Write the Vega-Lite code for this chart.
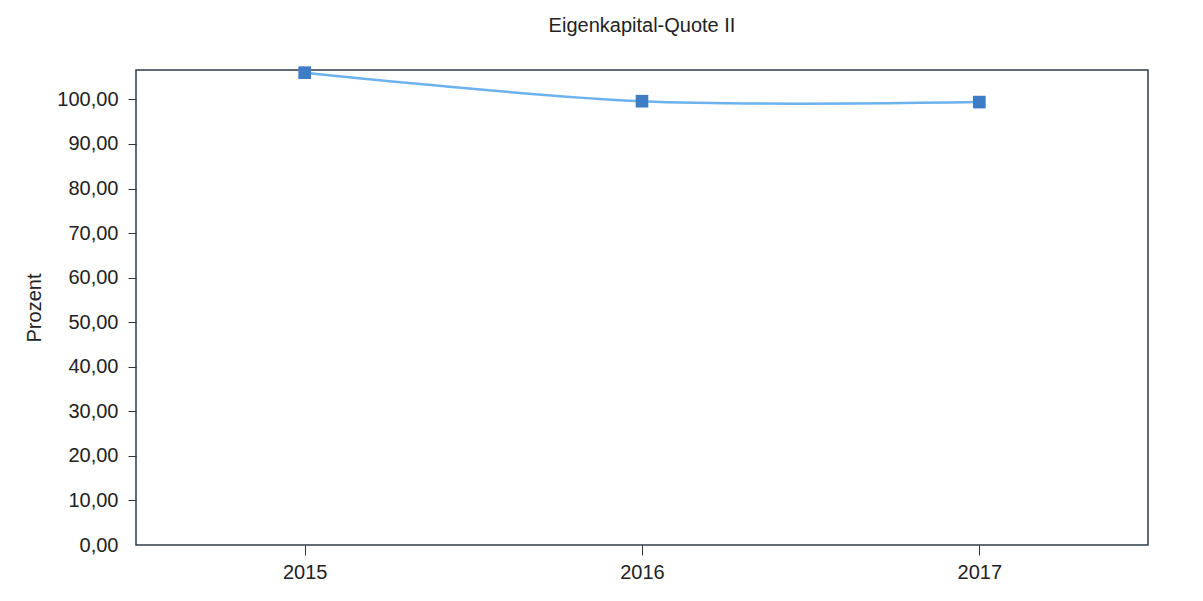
{
  "$schema": "https://vega.github.io/schema/vega-lite/v6.json",
  "autosize": "none",
  "width": 1012,
  "height": 475,
  "padding": {"left": 136, "top": 70, "right": 55, "bottom": 56},
  "background": "white",
  "title": {
    "text": "Eigenkapital-Quote II",
    "anchor": "middle",
    "font": "Liberation Sans",
    "fontSize": 20,
    "fontWeight": "normal",
    "color": "#222222",
    "offset": 30
  },
  "data": {
    "values": [
      {"Jahr": "2015", "Prozent": 106.0},
      {"Jahr": "2016", "Prozent": 99.6},
      {"Jahr": "2017", "Prozent": 99.4}
    ]
  },
  "encoding": {
    "x": {
      "field": "Jahr",
      "type": "ordinal",
      "scale": {"type": "point", "padding": 0.5},
      "axis": {
        "title": null,
        "labelAngle": 0,
        "labelFont": "Liberation Sans",
        "labelFontSize": 20,
        "labelColor": "#222222",
        "domain": false,
        "tickColor": "#333333",
        "tickSize": 10,
        "labelPadding": 7,
        "grid": false
      }
    },
    "y": {
      "field": "Prozent",
      "type": "quantitative",
      "scale": {"domain": [0, 106.6], "nice": false, "zero": true},
      "axis": {
        "title": "Prozent",
        "titleFont": "Liberation Sans",
        "titleFontSize": 20,
        "titleFontWeight": "normal",
        "titleColor": "#222222",
        "titlePadding": 12,
        "values": [0, 10, 20, 30, 40, 50, 60, 70, 80, 90, 100],
        "labelExpr": "replace(format(datum.value, '.2f'), '.', ',')",
        "labelFont": "Liberation Sans",
        "labelFontSize": 20,
        "labelColor": "#222222",
        "labelPadding": 10,
        "domain": false,
        "tickSize": 8,
        "tickColor": {"condition": {"test": "datum.value === 0", "value": "transparent"}, "value": "#333333"},
        "grid": false
      }
    }
  },
  "layer": [
    {
      "mark": {"type": "line", "interpolate": "cardinal", "color": "#6cb2ec", "strokeWidth": 2.5}
    },
    {
      "mark": {"type": "point", "shape": "square", "filled": true, "size": 160, "color": "#3e7cc6", "opacity": 1}
    }
  ],
  "config": {
    "view": {"stroke": "#2f3d4c", "strokeWidth": 1.5}
  }
}
